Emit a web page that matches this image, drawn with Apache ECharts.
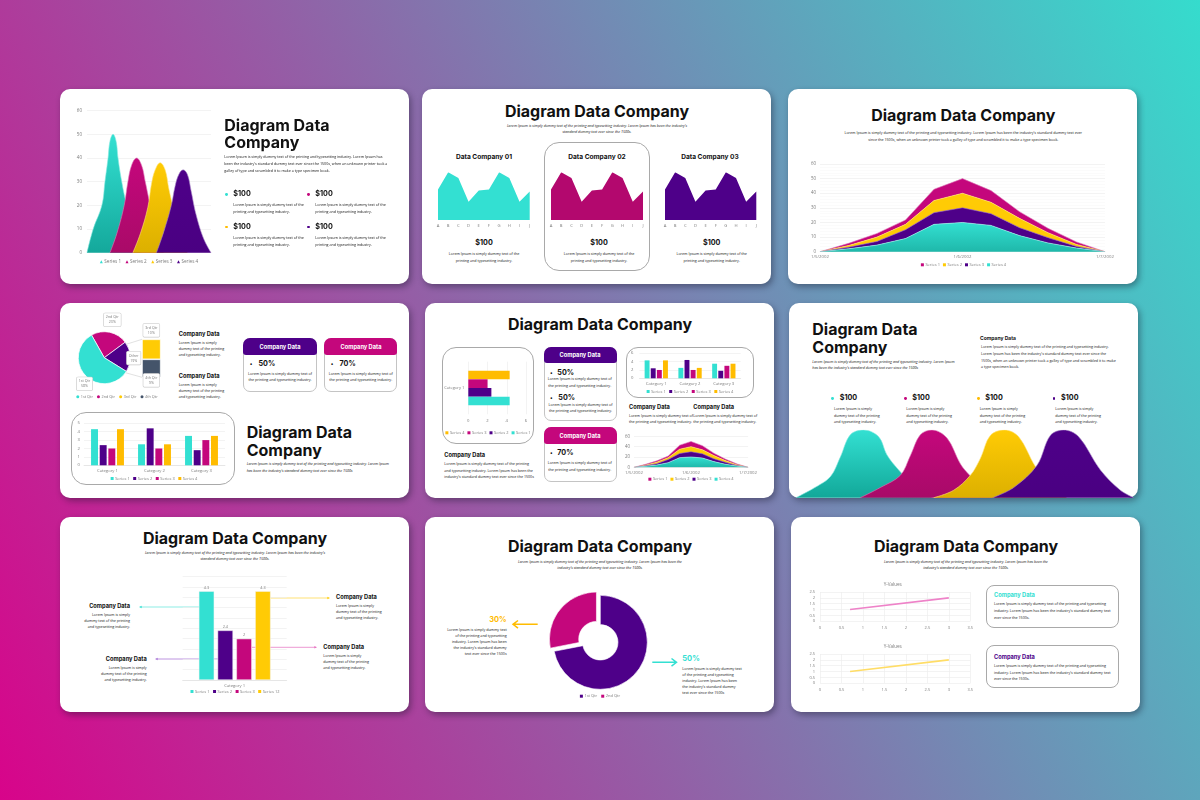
<!DOCTYPE html>
<html>
<head>
<meta charset="utf-8">
<script src="https://cdn.jsdelivr.net/npm/echarts@6/dist/echarts.min.js"></script>
<style>
html,body{margin:0;padding:0;width:1200px;height:800px;overflow:hidden;
  background:linear-gradient(63deg,#d8048a 0%,#35dccd 100%);}
.card{position:absolute;background:#fff;border-radius:10px;box-shadow:2px 3px 6px rgba(20,20,40,.4);}
.frame{position:absolute;box-sizing:border-box;background:#fff;border:1px solid #a9a9a9;}
.head{position:absolute;border-radius:7px 7px 3px 3px;}
.chart,.txt,svg{position:absolute;}
.txt{white-space:nowrap;font-family:"Open Sans",sans-serif;color:#111;line-height:1;}
</style>
</head>
<body>
<script>
// ---- data ----
const finSeries1 = [[0,0],[5,10],[12,20],[14.5,30],[17,40],[18.5,47],[21,50],[23.5,47],[25,40],[28,30],[32,20],[37,10],[43,0]];
const finSeries2 = [[18.5,0],[24,8],[30,20],[33,30],[36,37],[40,40],[44,37],[47,30],[51,20],[56,9],[62,0]];
const finSeries3 = [[37,0],[43,8],[49,19],[52,29],[55,35],[59,38],[63,35],[66,27],[70,18],[75,8],[81,0]];
const finSeries4 = [[56,0],[62,9],[68,20],[71,28],[74,33],[77.5,35],[81,33],[84,26],[88,16],[94,6],[100,0]];
const finNames = ['Series 1','Series 2','Series 3','Series 4'];

const letters = ['A','B','C','D','E','F','G','H','I','J'];
const companyValues = [3.2,5,4.4,1.9,3.1,3.2,5,4.4,1.9,3];

const stackDates = ['1/5/2002','','','','','1/6/2002','','','','','1/7/2002'];
const stackTeal = [0,2,4.5,9,18.7,20,18,11,6,2.5,0];
const stackPurple = [0,1,2.5,6,8,10,8,5.4,3.6,1.1,0];
const stackYellow = [0,1.2,3,3.7,8.3,10,7.8,6.4,3.4,1.4,0];
const stackMagenta = [0,1.5,2.5,3,7.7,10,8,4.6,3,1.7,0];

const qtrNames = ['1st Qtr','2nd Qtr','3rd Qtr','4th Qtr'];
const pieNames = ['2nd Qtr','Other','1st Qtr'];
const pieValues = [23,19,58];
const barOfPie = {third:10,fourth:9};

const categories = ['Category 1','Category 2','Category 3'];
const barSeries1 = [4.3,2.5,3.5];
const barSeries2 = [2.4,4.4,1.8];
const barSeries3 = [2,2,3];
const barSeries4 = [4.3,2.5,3.5];

const bell1 = [[0,0],[53,14],[103,31],[133,60],[163,93],[203,100],[248,90],[273,63],[308,41],[350,20],[410,0]];
const bell2 = [[193,0],[253,15],[313,33],[343,62],[373,93],[408,100],[453,88],[493,50],[521,33],[560,15],[613,0]];
const bell3 = [[413,0],[473,11],[523,33],[553,58],[583,92],[625,100],[668,90],[718,46],[760,20],[813,0]];
const bell4 = [[590,0],[653,15],[723,48],[763,92],[803,100],[848,90],[913,41],[973,11],[1013,0]];

const singleNames = ['Series 1','Series 2','Series 3','Series 12'];
const singleValues = [4.3,2.4,2,4.3];

const donutNames = ['1st Qtr','2nd Qtr'];
const donutValues = [8.2,3.2];

const xyLine = [[0.7,1],[3,2]];

// ---- palette ----
const TEAL='#33e0d2',PURPLE='#4e0089',MAGENTA='#c4077c',YELLOW='#ffcb05',AMBER='#ffbc00',NAVY='#44546a';
const GREY='#7a7a7a',GRID='#eeeeee';
const TITLE_FONT='Inter,sans-serif';

// ---- page helpers ----
function box(cls,x,y,w,h,css){
  const d=document.createElement('div');
  d.className=cls;
  d.style.cssText=`left:${x}px;top:${y}px;width:${w}px;height:${h}px;`+(css||'');
  document.body.appendChild(d);
  return d;
}
function T(x,y,s,o){
  o=o||{};
  const d=document.createElement('div');
  d.className='txt';
  d.textContent=s;
  const tx=o.align==='c'?'-50%':o.align==='r'?'-100%':'0';
  d.style.cssText=`left:${x}px;top:${y}px;transform:translate(${tx},-50%);font-size:${o.size||3.65}px;`+
    `font-weight:${o.bold?700:400};font-style:${o.italic?'italic':'normal'};color:${o.color||'#111'};`+
    (o.font?`font-family:${o.font};`:'');
  document.body.appendChild(d);
}
function lines(x,ys,texts,o){texts.forEach((s,i)=>T(x,ys[i],s,o));}
function title(x,y,s,o){T(x,y,s,Object.assign({size:16,bold:true,color:'#111',font:TITLE_FONT},o));}
function heading(x,y,s,o){T(x,y,s,Object.assign({size:5.7,bold:true,color:'#111',font:TITLE_FONT},o));}
function money(x,y,s){T(x,y,s,{size:7.2,bold:true,color:'#111',font:TITLE_FONT});}
function dot(x,y,c){box('txt',x-1.4,y-1.4,2.8,2.8,`background:${c};border-radius:50%;`);}

function chart(x,y,w,h,option){
  const el=box('chart',x,y,w,h);
  const c=echarts.init(el);
  option.animation=false;
  option.textStyle={fontFamily:'"Open Sans",sans-serif'};
  c.setOption(option);
  return c;
}
// grid given in page pixels, turned into container offsets
function gridIn(cx,cy,x0,y0,x1,y1){
  return {left:x0-cx,top:y0-cy,width:x1-x0,height:y1-y0,containLabel:false};
}
function legendAt(cy,y,names,icon,gap,size){
  return {left:'center',top:y-cy-2.5,itemWidth:3,itemHeight:3,itemGap:gap||4,icon:icon||'rect',padding:0,
    itemStyle:{borderWidth:0},lineStyle:{width:0},
    data:names,textStyle:{fontSize:size||4.4,color:GREY,padding:[0,0,0,-3.5]}};
}
const fade=(top,bottom)=>new echarts.graphic.LinearGradient(0,0,0,1,[{offset:0,color:top},{offset:1,color:bottom}]);
function axisText(size,margin){return {fontSize:size,color:GREY,margin:margin};}

// ---- cards ----
[[60,89],[422,89],[788,89],[60,303],[425,303],[789,303],[60,517],[425,517],[791,517]].forEach(p=>box('card',p[0],p[1],349,195));

const LOREM_2=['Lorem Ipsum is simply dummy text of the','printing and typesetting industry.'];
const LOREM_3=['Lorem Ipsum is simply','dummy text of the printing','and typesetting industry.'];
const LOREM_SUB=["Lorem Ipsum is simply dummy text of the printing and typesetting industry. Lorem Ipsum has been the industry's","standard dummy text ever since the 1500s."];

// ---- frames and boxes behind the charts ----
box('frame',544.3,141.7,105.7,129.3,'border-radius:15px;');
box('frame',70.7,411.7,164.3,73.3,'border-radius:15px;');
box('frame',441.7,346.7,92.3,97.3,'border-radius:14px;');
box('frame',625.7,346.7,128.6,51.6,'border-radius:12px;');
[[243.3,338.3,73.4,54],[324.3,338.3,73,54],[543.7,346.7,73,74.3],[543.7,427.3,73,54.4]].forEach(b=>box('frame',b[0],b[1],b[2],b[3],'border-radius:7px;border-color:#c4c4c4;'));
box('head',243.3,338.3,73.4,16.7,`background:${PURPLE};`);
box('head',324.3,338.3,73,16.7,`background:${MAGENTA};`);
box('head',543.7,346.7,73,16.7,`background:${PURPLE};`);
box('head',543.7,427.3,73,16.7,`background:${MAGENTA};`);
box('frame',986,585.3,133.3,43,'border-radius:8px;');
box('frame',986,645.3,133.3,43,'border-radius:8px;');

// ---- connector and callout lines ----
document.body.insertAdjacentHTML('beforeend',`<svg width="1200" height="800" style="left:0;top:0">
<g stroke-width="0.7" stroke="#d4d4d4"><line x1="124" y1="345" x2="142" y2="339.3"/><line x1="124" y1="372.3" x2="142" y2="377.3"/></g>
<g stroke-width="1"><line x1="199" y1="607" x2="141" y2="607" stroke="${TEAL}" opacity=".55"/>
<line x1="270.7" y1="598" x2="328" y2="598" stroke="${YELLOW}" opacity=".55"/>
<line x1="252" y1="647.3" x2="315" y2="647.3" stroke="#e66fc0" opacity=".7"/>
<line x1="218" y1="659" x2="157" y2="659" stroke="#a873d6" opacity=".75"/></g>
<path d="M139 607l2.6-1.3v2.6z" fill="${TEAL}"/><path d="M330 598l-2.6-1.3v2.6z" fill="${YELLOW}"/>
<path d="M317 647.3l-2.6-1.3v2.6z" fill="#e66fc0"/><path d="M155 659l2.6-1.3v2.6z" fill="#a873d6"/>
<g fill="none" stroke-width="1.5"><path d="M537.7 624.3H513M518 620.5l-5 3.8l5 3.8" stroke="${AMBER}"/>
<path d="M652.3 662.3H676.5M671.5 658.5l5 3.8l-5 3.8" stroke="${TEAL}"/></g></svg>`);

// ---- slide 1: overlapping fins ----
function fin(name,data,top,bottom,edge,z){
  return {name,type:'line',z,data,smooth:0.4,symbol:'none',itemStyle:{color:top},
    lineStyle:{color:edge,width:0.6},areaStyle:{color:fade(top,bottom),opacity:1}};
}
chart(60,95,178,180,{
  grid:gridIn(60,95,87,110.7,211,252.7),
  legend:legendAt(95,261.7,finNames,'triangle',4.5,4.6),
  xAxis:{type:'value',min:0,max:100,show:false},
  yAxis:{type:'value',min:0,max:60,interval:10,axisLabel:axisText(4.5,5),splitLine:{lineStyle:{color:GRID,width:0.7}},axisLine:{show:false},axisTick:{show:false}},
  series:[fin(finNames[0],finSeries1,TEAL,'#14a89b','#7fe9df',2),fin(finNames[1],finSeries2,MAGENTA,'#a90a68','#de7ab8',3),
    fin(finNames[2],finSeries3,YELLOW,'#dcb000','#ffe27a',4),fin(finNames[3],finSeries4,PURPLE,'#4a0082','#a98ac8',5)]
});
title(224.3,125,'Diagram Data');
title(224.3,142.3,'Company');
lines(224.3,[157.3,164,170.7],['Lorem Ipsum is simply dummy text of the printing and typesetting industry. Lorem Ipsum has',"been the industry's standard dummy text ever since the 1500s, when an unknown printer took a",'galley of type and scrambled it to make a type specimen book.']);
[[226.3,194.3,TEAL],[308.3,194.3,MAGENTA],[226.3,227,AMBER],[308.3,227,PURPLE]].forEach(p=>{
  dot(p[0],p[1],p[2]);
  money(p[0]+7,p[1],'$100');
  lines(p[0]+7,[p[1]+11,p[1]+17.7],LOREM_2);
});

// ---- slide 2: three company areas ----
function companyChart(xa,xj,color){
  const cx=xa-10,cy=165;
  chart(cx,cy,xj-xa+20,68,{
    grid:gridIn(cx,cy,xa,172.3,xj,220),
    xAxis:{type:'category',data:letters,boundaryGap:false,axisLabel:Object.assign(axisText(4.2,3.5),{interval:0}),axisLine:{show:false},axisTick:{show:false}},
    yAxis:{type:'value',min:0,max:5,show:false},
    series:[{type:'line',data:companyValues,symbol:'none',lineStyle:{width:0},itemStyle:{color},areaStyle:{color,opacity:1}}]
  });
}
companyChart(438.3,530,TEAL);
companyChart(551.3,643.3,'#b3086e');
companyChart(664.7,756,PURPLE);
title(597,110.7,'Diagram Data Company',{align:'c'});
lines(597,[125.7,132],LOREM_SUB,{align:'c',italic:true});
[[484,484,'01'],[597,599,'02'],[710,711.7,'03']].forEach(p=>{
  heading(p[0],157.3,'Data Company '+p[2],{align:'c',size:6.6});
  T(p[1],243.3,'$100',{align:'c',size:7.2,bold:true,color:'#111',font:TITLE_FONT});
  lines(p[1],[254,260.7],LOREM_2,{align:'c'});
});

// ---- stacked area used in slides 3 and 5 ----
function stackSeries(){
  const s=(name,data,top,bottom,edge,z)=>({name,type:'line',z,stack:'all',data,symbol:'none',itemStyle:{color:top},
    lineStyle:{color:edge,width:0.6},areaStyle:{color:bottom?fade(top,bottom):top,opacity:1}});
  return [s('Series 4',stackTeal,TEAL,'#1fb8aa','#a8f2ea',5),s('Series 3',stackPurple,PURPLE,null,'#8f5bb8',4),
    s('Series 2',stackYellow,YELLOW,null,'#ffe27a',3),s('Series 1',stackMagenta,MAGENTA,null,'#de7ab8',2)];
}
function stackChart(cx,cy,w,h,x0,y0,x1,y1,legendY,interval,minor){
  chart(cx,cy,w,h,{
    grid:gridIn(cx,cy,x0,y0,x1,y1),
    legend:legendAt(cy,legendY,['Series 1','Series 2','Series 3','Series 4'],'rect',3,4),
    xAxis:{type:'category',data:stackDates,boundaryGap:false,axisLabel:Object.assign(axisText(4.3,3),{interval:0,showMinLabel:true,showMaxLabel:true,hideOverlap:false}),axisLine:{lineStyle:{color:'#dddddd',width:0.6}},axisTick:{show:false}},
    yAxis:{type:'value',min:0,max:60,interval,axisLabel:axisText(4.4,4),axisLine:{show:false},axisTick:{show:false},
      splitLine:{lineStyle:{color:GRID,width:0.7}},minorTick:{show:false,splitNumber:minor},minorSplitLine:{show:minor>0,lineStyle:{color:'#f6f6f6',width:0.5}}},
    series:stackSeries()
  });
}
// ---- slide 3 ----
stackChart(800,155,326.6,118,820,164,1105,251.7,265.3,10,5);
title(963.3,115,'Diagram Data Company',{align:'c'});
lines(963.3,[133.3,140.3],["Lorem Ipsum is simply dummy text of the printing and typesetting industry. Lorem Ipsum has been the industry's standard dummy text ever",'since the 1500s, when an unknown printer took a galley of type and scrambled it to make a type specimen book.'],{align:'c'});

// ---- slide 4: pie with a stacked bar ----
const calloutStyle={position:'inside',color:GREY,fontSize:3.6,lineHeight:5,backgroundColor:'#fff',borderColor:'#c8c8c8',borderWidth:0.6,borderRadius:1,padding:[1.5,2]};
const pieColors=[MAGENTA,PURPLE,TEAL];
const pieOffsets=[[4.7,-22.3],[13.4,1],[-8.2,15]];
chart(62,310,110,96,{
  legend:legendAt(310,397.3,qtrNames,'circle',4,3.8),
  grid:gridIn(62,310,142,339.3,160.7,377.3),
  xAxis:{type:'category',data:['Other'],show:false},
  yAxis:{type:'value',min:0,max:19,show:false},
  series:[
    {type:'pie',center:[104.3-62,357.7-310],radius:26,startAngle:119.4,silent:true,
     itemStyle:{borderColor:'#fff',borderWidth:0.7},labelLine:{show:false},
     data:pieNames.map((name,i)=>({name,value:pieValues[i],itemStyle:{color:pieColors[i]},
       label:Object.assign({offset:pieOffsets[i],formatter:'{b}\n{c}%'},calloutStyle)}))},
    {name:qtrNames[3],type:'bar',stack:'q',barWidth:'100%',data:[barOfPie.fourth],itemStyle:{color:NAVY,borderColor:'#fff',borderWidth:0.7},
     label:Object.assign({show:true,offset:[0,12],formatter:p=>p.seriesName+'\n'+p.value+'%'},calloutStyle)},
    {name:qtrNames[2],type:'bar',stack:'q',barWidth:'100%',data:[barOfPie.third],itemStyle:{color:YELLOW,borderColor:'#fff',borderWidth:0.7},
     label:Object.assign({show:true,offset:[0,-19],formatter:p=>p.seriesName+'\n'+p.value+'%'},calloutStyle)}
  ]
});
heading(178.7,333.7,'Company Data');
lines(178.7,[342.7,348.7,354.7],LOREM_3);
heading(178.7,376,'Company Data');
lines(178.7,[385,391,397],LOREM_3);
[[243.3,'50%',280],[324.3,'70%',360.7]].forEach(p=>{
  T(p[0]+36.7,346.7,'Company Data',{align:'c',size:5.7,bold:true,color:'#fff',font:TITLE_FONT});
  T(p[0]+6.5,364.3,'•',{size:7,color:'#111'});
  money(p[0]+15.2,364.3,p[1]);
  lines(p[2],[374.3,380.3],['Lorem Ipsum is simply dummy text of','the printing and typesetting industry.'],{align:'c'});
});

// ---- grouped bars in slides 4 and 5 ----
function groupedBars(cx,cy,w,h,x0,y0,x1,y1,legendY,yMax,yStep,gap,yMargin){
  const s=(name,data,color)=>({name,type:'bar',data,itemStyle:{color},barGap:'25%',barCategoryGap:gap});
  chart(cx,cy,w,h,{
    grid:gridIn(cx,cy,x0,y0,x1,y1),
    legend:legendAt(cy,legendY,['Series 1','Series 2','Series 3','Series 4'],'rect',3.5,4),
    xAxis:{type:'category',data:categories,axisLabel:axisText(4.2,4),axisLine:{lineStyle:{color:'#dddddd',width:0.6}},axisTick:{show:false}},
    yAxis:{type:'value',min:0,max:yMax,interval:yStep,axisLabel:axisText(4.2,yMargin),axisLine:{show:false},axisTick:{show:false},splitLine:{lineStyle:{color:GRID,width:0.7}}},
    series:[s('Series 1',barSeries1,TEAL),s('Series 2',barSeries2,PURPLE),s('Series 3',barSeries3,MAGENTA),s('Series 4',barSeries4,AMBER)]
  });
}
groupedBars(73,413,162,71,84,423.3,225,465.3,479,5,1,'30%',4);
title(246.7,432,'Diagram Data');
title(246.7,449.7,'Company');
lines(246.7,[464,470.7],['Lorem Ipsum is simply dummy text of the printing and typesetting industry. Lorem Ipsum',"has been the industry's standard dummy text ever since the 1500s"],{italic:true});

// ---- slide 5 ----
groupedBars(628,348,124,49,638.7,353.3,740.7,378.3,392,6,2,'31%',6);
stackChart(622,430,138,56,633.3,436.3,749.3,467.3,479.7,20,0);
chart(434,349,108,93,{
  grid:gridIn(434,349,468.3,361.7,526,414.3),
  legend:legendAt(349,433.3,['Series 4','Series 3','Series 2','Series 1'],'rect',3,4),
  xAxis:{type:'value',min:0,max:6,interval:2,axisLabel:axisText(4.2,5),splitLine:{lineStyle:{color:GRID,width:0.7}},axisLine:{show:false},axisTick:{show:false}},
  yAxis:{type:'category',data:['Category 1'],axisLabel:axisText(4,4),axisLine:{show:false},axisTick:{show:false}},
  series:[['Series 4',barSeries4[0],AMBER],['Series 3',barSeries3[0],MAGENTA],['Series 2',barSeries2[0],PURPLE],['Series 1',barSeries1[0],TEAL]]
    .map(r=>({name:r[0],type:'bar',data:[r[1]],itemStyle:{color:r[2]},barGap:0,barCategoryGap:'34%'}))
});
title(600,324,'Diagram Data Company',{align:'c'});
heading(444.3,455,'Company Data');
lines(444.3,[464,470.7,477.3],['Lorem Ipsum is simply dummy text of the printing','and typesetting industry. Lorem Ipsum has been the',"industry's standard dummy text ever since the 1500s"]);
T(580,355,'Company Data',{align:'c',size:5.7,bold:true,color:'#fff',font:TITLE_FONT});
T(580,435.7,'Company Data',{align:'c',size:5.7,bold:true,color:'#fff',font:TITLE_FONT});
const LOREM_BOX=['Lorem Ipsum is simply dummy text of','the printing and typesetting industry.'];
T(550,373.3,'•',{size:7,color:'#111'});money(557.3,373.3,'50%');
lines(579.7,[379.3,385.7],LOREM_BOX,{align:'c'});
T(550,398.3,'•',{size:7,color:'#111'});money(558.3,398.3,'50%');
lines(580.5,[405,411.3],LOREM_BOX,{align:'c'});
T(550,453.3,'•',{size:7,color:'#111'});money(557.3,453.3,'70%');
lines(579.7,[463.3,469.7],LOREM_BOX,{align:'c'});
heading(629,407.3,'Company Data');
lines(629,[416,422.3],LOREM_BOX);
heading(693.3,407.3,'Company Data');
lines(693.3,[416,422.3],LOREM_BOX);

// ---- slide 6: bells along the bottom edge ----
function bell(data,top,bottom,edge,z){
  return {type:'line',z,data,smooth:0.35,symbol:'none',lineStyle:{color:edge,width:0.6},areaStyle:{color:fade(top,bottom),opacity:1}};
}
chart(795.7,425,337.7,73,{
  grid:gridIn(795.7,425,795.7,430,1133.4,497.7),
  xAxis:{type:'value',min:0,max:1013,show:false},
  yAxis:{type:'value',min:0,max:100,show:false},
  series:[bell(bell1,TEAL,'#12a899','#7fe9df',2),bell(bell2,MAGENTA,'#a80a68','#de7ab8',3),bell(bell3,YELLOW,'#dcb000','#ffe27a',4),bell(bell4,PURPLE,'#4a0082','#a98ac8',5)]
});
title(812.3,329.3,'Diagram Data');
title(812.3,346.7,'Company');
lines(812.3,[361.7,368.3],['Lorem Ipsum is simply dummy text of the printing and typesetting industry. Lorem Ipsum',"has been the industry's standard dummy text ever since the 1500s"],{italic:true});
heading(980,337.7,'Company Data',{size:5});
lines(981,[347.3,354,360.7,367.3],['Lorem Ipsum is simply dummy text of the printing and typesetting industry.',"Lorem Ipsum has been the industry's standard dummy text ever since the",'1500s, when an unknown printer took a galley of type and scrambled it to make','a type specimen book.']);
[[832.7,TEAL,839.7,834],[905.7,MAGENTA,912.3,906.3],[978.7,AMBER,985.3,979.7],[1054,PURPLE,1061,1055.3]].forEach(p=>{
  dot(p[0],398.3,p[1]);
  money(p[2],398.3,'$100');
  lines(p[3],[409,415.7,422.3],LOREM_3);
});

// ---- slide 7: single category bars ----
chart(160,570,150,130,{
  grid:gridIn(160,570,182.7,576.7,286.7,680),
  legend:legendAt(570,692,singleNames,'rect',3.5,4),
  xAxis:{type:'category',data:['Category 1'],axisLabel:axisText(4.2,3.5),axisLine:{lineStyle:{color:'#dddddd',width:0.6}},axisTick:{show:false}},
  yAxis:{type:'value',min:0,max:5,interval:0.5,show:true,axisLabel:{show:false},axisLine:{show:false},axisTick:{show:false},splitLine:{lineStyle:{color:GRID,width:0.7}}},
  series:singleNames.map((name,i)=>({name,type:'bar',data:[singleValues[i]],barGap:'22%',barCategoryGap:'31%',
    itemStyle:{color:[TEAL,PURPLE,MAGENTA,YELLOW][i],borderColor:'#f2f2f2',borderWidth:0.5},
    label:{show:true,position:'top',distance:1.5,fontSize:3.8,color:GREY}}))
});
title(235,538.3,'Diagram Data Company',{align:'c'});
lines(235,[553.3,559.3],LOREM_SUB,{align:'c',italic:true});
heading(130,606.3,'Company Data',{align:'r'});
lines(130,[615,621,627],LOREM_3,{align:'r'});
heading(146.7,659,'Company Data',{align:'r'});
lines(146.7,[667.7,673.7,679.7],LOREM_3,{align:'r'});
heading(336,597.3,'Company Data');
lines(336,[606.3,612.3,618.3],LOREM_3);
heading(323.3,647.3,'Company Data');
lines(323.3,[656.3,662.3,668.3],LOREM_3);

// ---- slide 8: doughnut ----
chart(545,585,110,120,{
  legend:legendAt(585,696.7,donutNames,'rect',4,4),
  series:[{type:'pie',center:[55.3,57.3],radius:[17.7,47],startAngle:90,selectedMode:'single',selectedOffset:5,
    label:{show:false},labelLine:{show:false},itemStyle:{borderColor:'#fff',borderWidth:0.6},
    data:donutNames.map((name,i)=>({name,value:donutValues[i],selected:i===1,itemStyle:{color:[PURPLE,MAGENTA][i]}}))}]
});
title(600,546,'Diagram Data Company',{align:'c'});
lines(600,[562,568],["Lorem Ipsum is simply dummy text of the printing and typesetting industry. Lorem Ipsum has been the","industry's standard dummy text ever since the 1500s."],{align:'c',italic:true});
T(506.7,620,'30%',{align:'r',size:7.5,bold:true,color:AMBER,font:TITLE_FONT});
const LOREM_5=['Lorem Ipsum is simply dummy text','of the printing and typesetting','industry. Lorem Ipsum has been',"the industry's standard dummy",'text ever since the 1500s'];
lines(506.7,[630.3,636.3,642.3,648.3,654.3],LOREM_5,{align:'r'});
T(682.3,659,'50%',{size:7.5,bold:true,color:TEAL,font:TITLE_FONT});
lines(682.3,[669.3,675.3,681.3,687.3,693.3],LOREM_5);

// ---- slide 9: two small lines ----
function xyChart(y0,color){
  const cx=805,cy=y0-12,w=180;
  chart(cx,cy,w,54,{
    title:{text:'Y-Values',left:87.7,top:2,textAlign:'center',padding:0,textStyle:{fontSize:4.6,fontWeight:400,color:GREY}},
    grid:gridIn(cx,cy,820,y0,970.3,y0+29.3),
    xAxis:{type:'value',min:0,max:3.5,interval:0.5,axisLabel:axisText(4,5),axisLine:{show:false},axisTick:{show:false},splitLine:{lineStyle:{color:GRID,width:0.7}}},
    yAxis:{type:'value',min:0,max:2.5,interval:0.5,axisLabel:axisText(4,5),axisLine:{show:false},axisTick:{show:false},splitLine:{lineStyle:{color:GRID,width:0.7}}},
    series:[{type:'line',data:xyLine,symbol:'none',lineStyle:{color,width:1.6}}]
  });
}
xyChart(591.7,'#ee82c8');
xyChart(653.7,'#ffdd66');
title(966,546,'Diagram Data Company',{align:'c'});
lines(966,[562,568],["Lorem Ipsum is simply dummy text of the printing and typesetting industry. Lorem Ipsum has been the","industry's standard dummy text ever since the 1500s."],{align:'c',italic:true});
const LOREM_CARD=['Lorem Ipsum is simply dummy text of the printing and typesetting',"industry. Lorem Ipsum has been the industry's standard dummy text",'ever since the 1500s.'];
heading(994,595.3,'Company Data',{color:TEAL});
lines(994,[604.3,611,617.7],LOREM_CARD);
heading(994,657,'Company Data',{color:PURPLE});
lines(994,[666,672.7,679.3],LOREM_CARD);
</script>
</body>
</html>
